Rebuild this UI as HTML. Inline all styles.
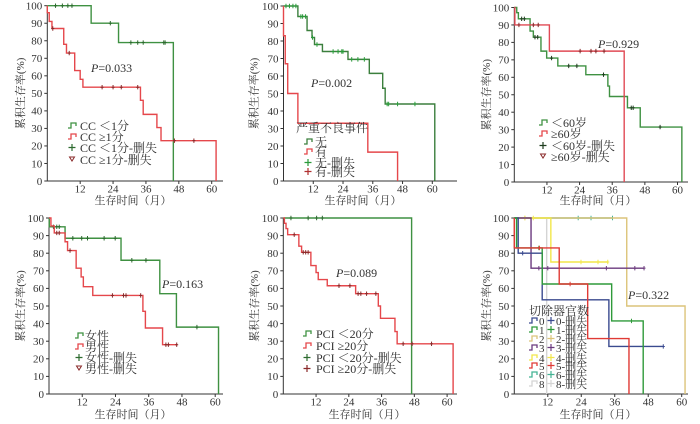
<!DOCTYPE html>
<html><head><meta charset="utf-8">
<style>
html,body{margin:0;padding:0;background:#fff;}
svg{display:block;}
text{font-family:"Liberation Serif","Noto Serif CJK SC",serif;fill:#333;}
</style></head>
<body>
<svg id="chart" width="700" height="424" viewBox="0 0 700 424" xmlns="http://www.w3.org/2000/svg"></svg>
<script>
// ---------- DATA ----------
const yTicks = [0,10,20,30,40,50,60,70,80,90,100];
const xTicks = [12,24,36,48,60];
// Panel 1: CC
const p1GreenT = [16,26,46];
const p1GreenV = [90,79,0];
const p1GreenC = [3,5.5,7.5,9,23,30.5,33,35,42.5,43];
const p1RedT = [0,0.7,1.7,6,7,10,12,13,34,35,40,41.5,61.6];
const p1RedV = [96,91,87,78,73,63,58,53.5,46,38,30.5,23,0];
const p1RedC = [2,8,20,24,27,33,46.4,53.5];
// Panel 2: adverse events
const p2GreenT = [5.8,9.5,11.5,12.5,15.7,26,34.6,40,41,61];
const p2GreenV = [94,86,82,78,74,69.5,61.5,53,44,0];
const p2GreenC = [1,2.4,3.8,5,7,7.7,8.9,11.7,13.5,20,22,23.5,24,27.5,30,32.6,41.8,42.4,46,53];
const p2RedT = [0,0.7,1.7,5.8,34,46];
const p2RedV = [83,67,50,33,16.5,0];
const p2RedC = [];
// Panel 3: age
const p3GreenT = [0.9,1.5,5.8,7,9.8,11.9,16,26.3,34.4,35,41.6,46.3,61.6];
const p3GreenV = [97,93.5,86.5,83,75,71,66.5,61.5,55,49,42.5,31.5,0];
const p3GreenC = [2.7,3.7,7.6,8.6,13.7,20,23,32.8,43,43.7,53.6];
const p3RedT = [0.2,12.9,40.4];
const p3RedV = [90,75,0];
const p3RedC = [1.7,7,8.8,24.2,28.2,30,33];
// Panel 4: sex
const p4GreenT = [0.1,5.8,26,40,46,61.2];
const p4GreenV = [95,88.5,76,57,38,0];
const p4GreenC = [1.6,2.8,3.7,8.6,11.8,13.9,19.9,23.9,29.9,35,53.4];
const p4RedT = [0.7,1.9,5.8,6.7,9.8,11.6,12.4,15.8,33.9,34.8,41];
const p4RedV = [95.5,91.5,86.5,81.5,71.5,66.5,61,56,47,37.5,28];
const p4RedC = [2.8,3.7,7.6,22.9,26.9,27.8,33.1,42.2,43.1,46.1];
// Panel 5: PCI
const p5GreenT = [47];
const p5GreenV = [0];
const p5GreenC = [2.8,9.1,12.2,14.3];
const p5RedT = [0.4,1,1.6,5.7,6.7,10.1,12,12.8,16.1,26.5,34.8,35.6,40.9,41.7,62.2];
const p5RedV = [97,94,90.5,84,80.5,73,69,65,61.5,57,50,43,35.5,28.5,0];
const p5RedC = [4,7.3,8.2,9.1,20.4,24.4,27.4,28.4,30.5,33.9,43.9,47.2,54.3];
// Panel 6: organs removed
const p6S0T=[1.4,10,33.9], p6S0V=[80,53.5,27], p6S0C=[3,53.4];
const p6S1T=[0.8,10,34.9,46.2], p6S1V=[83,62.5,41.5,0], p6S1C=[8.8,42];
const p6S2T=[40.3,61.2], p6S2V=[50,0], p6S2C=[3.8];
const p6S3T=[6], p6S3V=[71.5], p6S3C=[8.8,12,33,43.2,46.5];
const p6S4T=[13.1], p6S4V=[75], p6S4C=[3.8,6.8,23.9,30,33.5];
const p6S5T=[0,16.1,26.3,41.1], p6S5V=[83,62.5,31.5,0], p6S5C=[9,20];
const p6S6T=[], p6S6V=[], p6S6C=[22.9,27.5,35.2];
const p6S8T=[11.6], p6S8V=[0], p6S8C=[];
const pValues = ["0.033","0.002","0.929","0.163","0.089","0.322"];

// ---------- RENDER ----------
const NS="http://www.w3.org/2000/svg";
const svg=document.getElementById('chart');
function mk(tag,attrs,parent){const e=document.createElementNS(NS,tag);for(const k in attrs)e.setAttribute(k,attrs[k]);(parent||svg).appendChild(e);return e;}
const GREEN="#3f9142", RED="#e5474b";

function panel(name,x0,pm,yb,yt,xEnd,ylabX,xlabX,xlabY){
  const g=mk('g',{});
  
  
  const P={g,x:t=>x0+t*pm,y:v=>yb-(yb-yt)*v/100};
  const ax=mk('path',{d:`M${x0},${yt} V${yb} H${xEnd}`,fill:'none',stroke:'#333','stroke-width':1},g);
  
  
  yTicks.forEach(v=>{
    const y=P.y(v);
    mk('line',{x1:x0-3,x2:x0,y1:y,y2:y,stroke:'#333'},g);
    const t=mk('text',{x:x0-5,y:y+3.8,'font-size':11,'text-anchor':'end'},g);t.textContent=v;
    
    
  });
  xTicks.forEach(v=>{
    const x=P.x(v);
    mk('line',{x1:x,x2:x,y1:yb,y2:yb+3,stroke:'#333'},g);
    const t=mk('text',{x:x,y:yb+11.5,'font-size':11,'text-anchor':'middle'},g);t.textContent=v;
    
    
  });
  const cy=(yb+yt)/2;
  const yl=mk('text',{x:ylabX,y:cy,'font-size':11,'text-anchor':'middle',transform:`rotate(-90 ${ylabX} ${cy})`},g);
  yl.textContent='累积生存率(%)';
  
  
  const xl=mk('text',{x:xlabX,y:xlabY,'font-size':11,'text-anchor':'middle'},g);
  xl.textContent='生存时间（月）';
  
  
  return P;
}
function series(P,name,T,V,C,end,color,cColor){
  let d=`M${P.x(0)},${P.y(100)}`;
  for(let i=0;i<T.length;i++){d+=` H${P.x(T[i])} V${P.y(V[i])}`;}
  let last=T.length?T[T.length-1]:0;
  if(end!=null&&end>last)d+=` H${P.x(end)}`;
  const p=mk('path',{d,fill:'none',stroke:color,'stroke-width':1.4,'stroke-linejoin':'miter'},P.g);
  
  
  C.forEach(t=>{
    let s=100;for(let i=0;i<T.length;i++){if(T[i]<=t)s=V[i];}
    const x=P.x(t),y=P.y(s);
    const c=mk('path',{d:`M${x},${y-2.2} V${y+2.2} M${x-1.5},${y} H${x+1.5}`,stroke:cColor||color,'stroke-width':1},P.g);
    
    
  });
}
function legendStep(P,x,y,color){
  const e=mk('path',{d:`M${x},${y+2} h3 v-5 h5 v3`,fill:'none',stroke:color,'stroke-width':1.3},P.g);
  
  
}
function legendPlus(P,x,y,color){
  const e=mk('path',{d:`M${x+4},${y-4} v7 M${x+0.5},${y-0.5} h7`,stroke:color,'stroke-width':1.2},P.g);
  
  
}
function legendTri(P,x,y,color){
  const e=mk('path',{d:`M${x+1.5},${y-3} h5 l-2.5,4 z`,fill:'none',stroke:color,'stroke-width':1},P.g);
  
  
}
function ltext(P,x,y,s,size){
  const t=mk('text',{x,y:y+4,'font-size':size||12},P.g);t.textContent=s;
  
  
  return t;
}
function pval(P,x,y,s){
  const t=mk('text',{x,y,'font-size':12},P.g);
  const a=mk('tspan',{'font-style':'italic'},t);a.textContent='P';
  const b=mk('tspan',{},t);b.textContent='='+s;
  
  
}

// Panel 1
let P=panel('panel-cc',47.3,2.74,181,5.7,223,24,133,204);
series(P,'cc-lt1-curve',p1GreenT,p1GreenV,p1GreenC,null,GREEN,'#2d6b2f');
series(P,'cc-ge1-curve',p1RedT,p1RedV,p1RedC,null,RED,'#8a2a2a');
pval(P,91,72,pValues[0]);
[[126,'s',GREEN,'CC ＜1分'],[137,'s',RED,'CC ≥1分'],[148,'p','#2d6b2f','CC ＜1分-删失'],[160,'t','#8a2a2a','CC ≥1分-删失']].forEach(r=>{
  if(r[1]=='s')legendStep(P,68,r[0],r[2]);else if(r[1]=='p')legendPlus(P,68,r[0],r[2]);else legendTri(P,68,r[0],r[2]);
  ltext(P,80,r[0],r[3]);
});
// Panel 2
P=panel('panel-adverse',283.5,2.48,181,6,457,257.5,363,204);
series(P,'no-event-curve',p2GreenT,p2GreenV,p2GreenC,null,'#3b7f3d','#2a9a3a');
series(P,'event-curve',p2RedT,p2RedV,p2RedC,null,RED,'#8a2a2a');
pval(P,311,87,pValues[1]);
ltext(P,296,128,'严重不良事件');
[[142,'s','#3b7f3d','无'],[152,'s',RED,'有'],[163,'p','#2a9a3a','无-删失'],[172,'p','#b03030','有-删失']].forEach(r=>{
  if(r[1]=='s')legendStep(P,304,r[0],r[2]);else legendPlus(P,304,r[0],r[2]);
  ltext(P,315,r[0],r[3]);
});
// Panel 3
P=panel('panel-age',514.3,2.72,182,7.5,688,490,598,204);
series(P,'age-lt60-curve',p3GreenT,p3GreenV,p3GreenC,null,GREEN,'#1e3d1e');
series(P,'age-ge60-curve',p3RedT,p3RedV,p3RedC,null,'#e04a55','#8a2a2a');
pval(P,598,48,pValues[2]);
[[123,'s',GREEN,'＜60岁'],[134,'s',RED,'≥60岁'],[146,'p','#1e3d1e','＜60岁-删失'],[157,'t','#8a2a2a','≥60岁-删失']].forEach(r=>{
  if(r[1]=='s')legendStep(P,539,r[0],r[2]);else if(r[1]=='p')legendPlus(P,539,r[0],r[2]);else legendTri(P,539,r[0],r[2]);
  ltext(P,551,r[0],r[3]);
});
// Panel 4
P=panel('panel-sex',49,2.77,394,218,223,24,133,418);
series(P,'female-curve',p4GreenT,p4GreenV,p4GreenC,null,GREEN,'#2d6b2f');
series(P,'male-curve',p4RedT,p4RedV,p4RedC,46.3,RED,'#8a2a2a');
pval(P,162,288,pValues[3]);
[[336,'s',GREEN,'女性'],[347,'s',RED,'男性'],[358,'p','#2d6b2f','女性-删失'],[369,'t','#8a2a2a','男性-删失']].forEach(r=>{
  if(r[1]=='s')legendStep(P,75,r[0],r[2]);else if(r[1]=='p')legendPlus(P,75,r[0],r[2]);else legendTri(P,75,r[0],r[2]);
  ltext(P,85,r[0],r[3]);
});
// Panel 5
P=panel('panel-pci',283.3,2.73,394,218,457,258,367,418);
series(P,'pci-lt20-curve',p5GreenT,p5GreenV,p5GreenC,null,GREEN,'#2d6b2f');
series(P,'pci-ge20-curve',p5RedT,p5RedV,p5RedC,null,RED,'#8a2a2a');
pval(P,336,277,pValues[4]);
[[334,'s',GREEN,'PCI ＜20分'],[346,'s',RED,'PCI ≥20分'],[358,'p','#2d6b2f','PCI ＜20分-删失'],[369,'p','#8a2a2a','PCI ≥20分-删失']].forEach(r=>{
  if(r[1]=='s')legendStep(P,303,r[0],r[2]);else legendPlus(P,303,r[0],r[2]);
  ltext(P,316,r[0],r[3]);
});
// Panel 6
P=panel('panel-organs',514.3,2.79,394,218,688,490,598,418);
const c6={s0:'#3a4a8f',s1:'#2f9a3a',s2:'#dcc47a',s3:'#6b3a7e',s4:'#f2e64a',s5:'#e03a35',s6:'#45b394',s8:'#d4d4d4'};
series(P,'organs-6-curve',p6S6T,p6S6V,p6S6C,35.2,c6.s6);
series(P,'organs-8-curve',p6S8T,p6S8V,p6S8C,null,c6.s8);
series(P,'organs-2-curve',p6S2T,p6S2V,p6S2C,null,c6.s2);
series(P,'organs-4-curve',p6S4T,p6S4V,p6S4C,33.5,c6.s4);
series(P,'organs-3-curve',p6S3T,p6S3V,p6S3C,46.5,c6.s3);
series(P,'organs-0-curve',p6S0T,p6S0V,p6S0C,53.4,c6.s0);
series(P,'organs-1-curve',p6S1T,p6S1V,p6S1C,null,c6.s1);
series(P,'organs-5-curve',p6S5T,p6S5V,p6S5C,null,c6.s5);
pval(P,628,299,pValues[5]);
ltext(P,529,311,'切除器官数');
[['0',321,c6.s0],['1',330,c6.s1],['2',339,c6.s2],['3',348,c6.s3],['4',358,c6.s4],['5',366,c6.s5],['6',375,c6.s6],['8',384,c6.s8]].forEach(r=>{
  legendStep(P,529,r[1],r[2]);
  ltext(P,539,r[1],r[0],11);
  legendPlus(P,547,r[1],r[2]);
  ltext(P,556,r[1],r[0]+'-删失',11);
});
</script>
</body></html>
